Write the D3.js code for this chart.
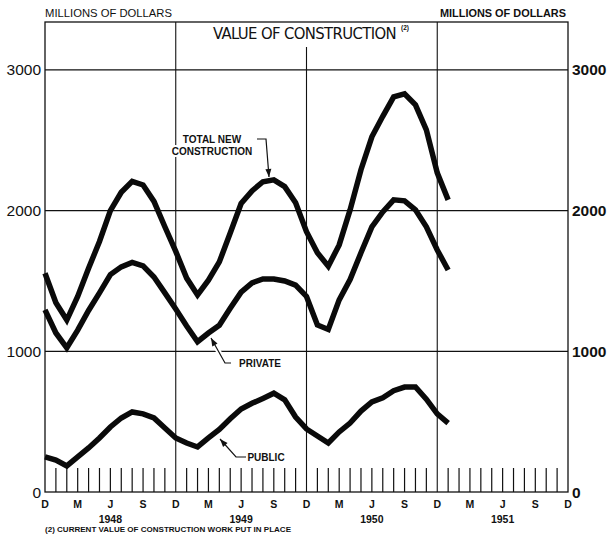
<!DOCTYPE html>
<html>
<head>
<meta charset="utf-8">
<script src="https://cdn.jsdelivr.net/npm/d3@7"></script>
<style>
  html, body { margin: 0; padding: 0; background: #fff; }
  svg { display: block; }
</style>
</head>
<body>
<svg id="chart" width="607" height="535"></svg>
<script>
// ---- Data (monthly, Dec 1947 .. Jan 1951), millions of dollars ----
const monthIndex = d3.range(38); // 0 = Dec 1947
const totalNew = [1555,1345,1222,1390,1590,1780,2000,2130,2208,2182,2065,1885,
                  1710,1520,1400,1505,1635,1840,2050,2140,2205,2218,2170,2055,
                  1850,1700,1605,1756,2005,2290,2524,2670,2808,2829,2751,2573,2268,2076];
const privateVals = [1294,1130,1025,1150,1290,1415,1545,1600,1632,1607,1528,1415,
                     1300,1180,1068,1130,1185,1305,1420,1486,1514,1514,1500,1470,
                     1390,1187,1155,1365,1510,1700,1884,1990,2076,2069,2005,1884,1720,1578];
const publicVals = [249,227,185,249,313,384,462,526,569,555,526,455,
                    384,348,320,384,445,520,590,630,665,702,655,533,
                    448,398,348,427,490,575,640,670,720,746,746,660,555,490];
const yTicks = [0, 1000, 2000, 3000];
const monthLabels = ["D","M","J","S"];
const years = ["1948","1949","1950","1951"];

const svg = d3.select("#chart");
const L = 45, R = 568, T = 22, B = 492;
const x = d3.scaleLinear().domain([0, 48]).range([L, R]);
const y = d3.scaleLinear().domain([0, 3340]).range([B, T]);
const font = "'Liberation Sans', Arial, sans-serif";

// horizontal grid
svg.append("g").selectAll("line").data([1000, 2000, 3000]).join("line")
  .attr("x1", L).attr("x2", R).attr("y1", d => y(d)).attr("y2", d => y(d))
  .attr("stroke", "#111").attr("stroke-width", 1.2);

// vertical grid at each December
svg.append("g").selectAll("line").data([12, 24, 36]).join("line")
  .attr("x1", d => x(d)).attr("x2", d => x(d))
  .attr("y1", d => d === 24 ? 47 : T).attr("y2", B)
  .attr("stroke", "#111").attr("stroke-width", 1.1);

// frame
svg.append("rect").attr("x", L).attr("y", T).attr("width", R - L).attr("height", B - T)
  .attr("fill", "none").attr("stroke", "#111").attr("stroke-width", 1.3);

// monthly ticks
const tickMonths = d3.range(1, 48).filter(i => i % 12 !== 0);
svg.append("g").selectAll("line").data(tickMonths).join("line")
  .attr("x1", d => x(d)).attr("x2", d => x(d))
  .attr("y1", B - 24).attr("y2", B)
  .attr("stroke", "#111").attr("stroke-width", 1.2);

// y labels (left & right)
svg.append("g").selectAll("text").data(yTicks).join("text")
  .attr("x", L - 4).attr("y", d => y(d) + 5.5)
  .attr("text-anchor", "end").attr("font-family", font).attr("font-size", 15.5)
  .attr("fill", "#111").text(d => d);
svg.append("g").selectAll("text").data(yTicks).join("text")
  .attr("x", R + 4).attr("y", d => y(d) + 5.5)
  .attr("text-anchor", "start").attr("font-family", font).attr("font-size", 15.5)
  .attr("font-weight", "bold").attr("fill", "#111").text(d => d);

// header labels
svg.append("text").attr("x", L).attr("y", 17).attr("font-family", font)
  .attr("font-size", 10.5).attr("fill", "#111")
  .attr("textLength", 127).attr("lengthAdjust", "spacingAndGlyphs").text("MILLIONS OF DOLLARS");
svg.append("text").attr("x", 440).attr("y", 17).attr("font-family", font)
  .attr("font-size", 10.5).attr("font-weight", "bold").attr("fill", "#111")
  .attr("textLength", 126).attr("lengthAdjust", "spacingAndGlyphs").text("MILLIONS OF DOLLARS");

// title: fit width with letter-spacing, then the note marker after it
const titleText = "VALUE OF CONSTRUCTION";
const title = svg.append("text").attr("x", 213).attr("y", 39)
  .attr("font-family", "'DejaVu Sans Condensed', 'DejaVu Sans', sans-serif")
  .attr("font-size", 16.5).attr("fill", "#111")
  .text(titleText);
const natural = title.node().getComputedTextLength();
const ls = (183 - natural) / titleText.length;
title.attr("letter-spacing", ls);
const tw = title.node().getComputedTextLength();
svg.append("text").attr("x", 213 + Math.max(tw, 183) + 5).attr("y", 30)
  .attr("font-family", font).attr("font-size", 6.5).attr("font-weight", "bold")
  .attr("fill", "#111").text("(2)");

// x labels
const labIdx = d3.range(0, 49, 3);
svg.append("g").selectAll("text").data(labIdx).join("text")
  .attr("x", d => x(d)).attr("y", 508).attr("text-anchor", "middle")
  .attr("font-family", font).attr("font-size", 10.5).attr("font-weight", "bold")
  .attr("fill", "#111").text(d => monthLabels[(d / 3) % 4]);
svg.append("g").selectAll("text").data(years).join("text")
  .attr("x", (d, i) => x(i * 12 + 6)).attr("y", 523).attr("text-anchor", "middle")
  .attr("font-family", font).attr("font-size", 10.5).attr("font-weight", "bold")
  .attr("fill", "#111").text(d => d);
svg.append("text").attr("x", 45).attr("y", 532)
  .attr("font-family", font).attr("font-size", 6.3).attr("font-weight", "bold")
  .attr("fill", "#111").attr("textLength", 246).attr("lengthAdjust", "spacingAndGlyphs")
  .text("(2) CURRENT  VALUE OF CONSTRUCTION WORK PUT IN PLACE");

// series lines
const line = d3.line().x((d, i) => x(i)).y(d => y(d));
[totalNew, privateVals, publicVals].forEach(s => {
  svg.append("path").datum(s).attr("d", line)
    .attr("fill", "none").attr("stroke", "#0a0a0a").attr("stroke-width", 5.5)
    .attr("stroke-linejoin", "miter").attr("stroke-miterlimit", 3);
});

// annotations
function label(lines, x0, y0) {
  const g = svg.append("g");
  lines.forEach((t, i) => {
    g.append("text").attr("x", x0).attr("y", y0 + i * 11.5)
      .attr("text-anchor", "middle").attr("font-family", font).attr("font-size", 10)
      .attr("font-weight", "bold").attr("fill", "#111")
      .attr("stroke", "#fff").attr("stroke-width", 4).attr("paint-order", "stroke")
      .text(t);
  });
}
function leader(pts) {
  const p = d3.line()(pts);
  svg.append("path").attr("d", p).attr("fill", "none").attr("stroke", "#fff").attr("stroke-width", 5);
  svg.append("path").attr("d", p).attr("fill", "none").attr("stroke", "#111").attr("stroke-width", 1.2);
  const [a, b] = pts.slice(-2);
  const ang = Math.atan2(b[1] - a[1], b[0] - a[0]);
  const len = 8, w = 3;
  const bx = b[0] - len * Math.cos(ang), by = b[1] - len * Math.sin(ang);
  svg.append("path").attr("d", d3.line()([b,
      [bx + w * Math.sin(ang), by - w * Math.cos(ang)],
      [bx - w * Math.sin(ang), by + w * Math.cos(ang)], b]))
    .attr("fill", "#111");
}
label(["TOTAL NEW", "CONSTRUCTION"], 212, 143);
leader([[257, 139], [266, 139], [269, 177]]);
label(["PRIVATE"], 260, 367);
leader([[231, 363], [225, 363], [211, 338]]);
label(["PUBLIC"], 266, 461);
leader([[246, 457], [236, 457], [220, 439]]);
</script>
</body>
</html>
